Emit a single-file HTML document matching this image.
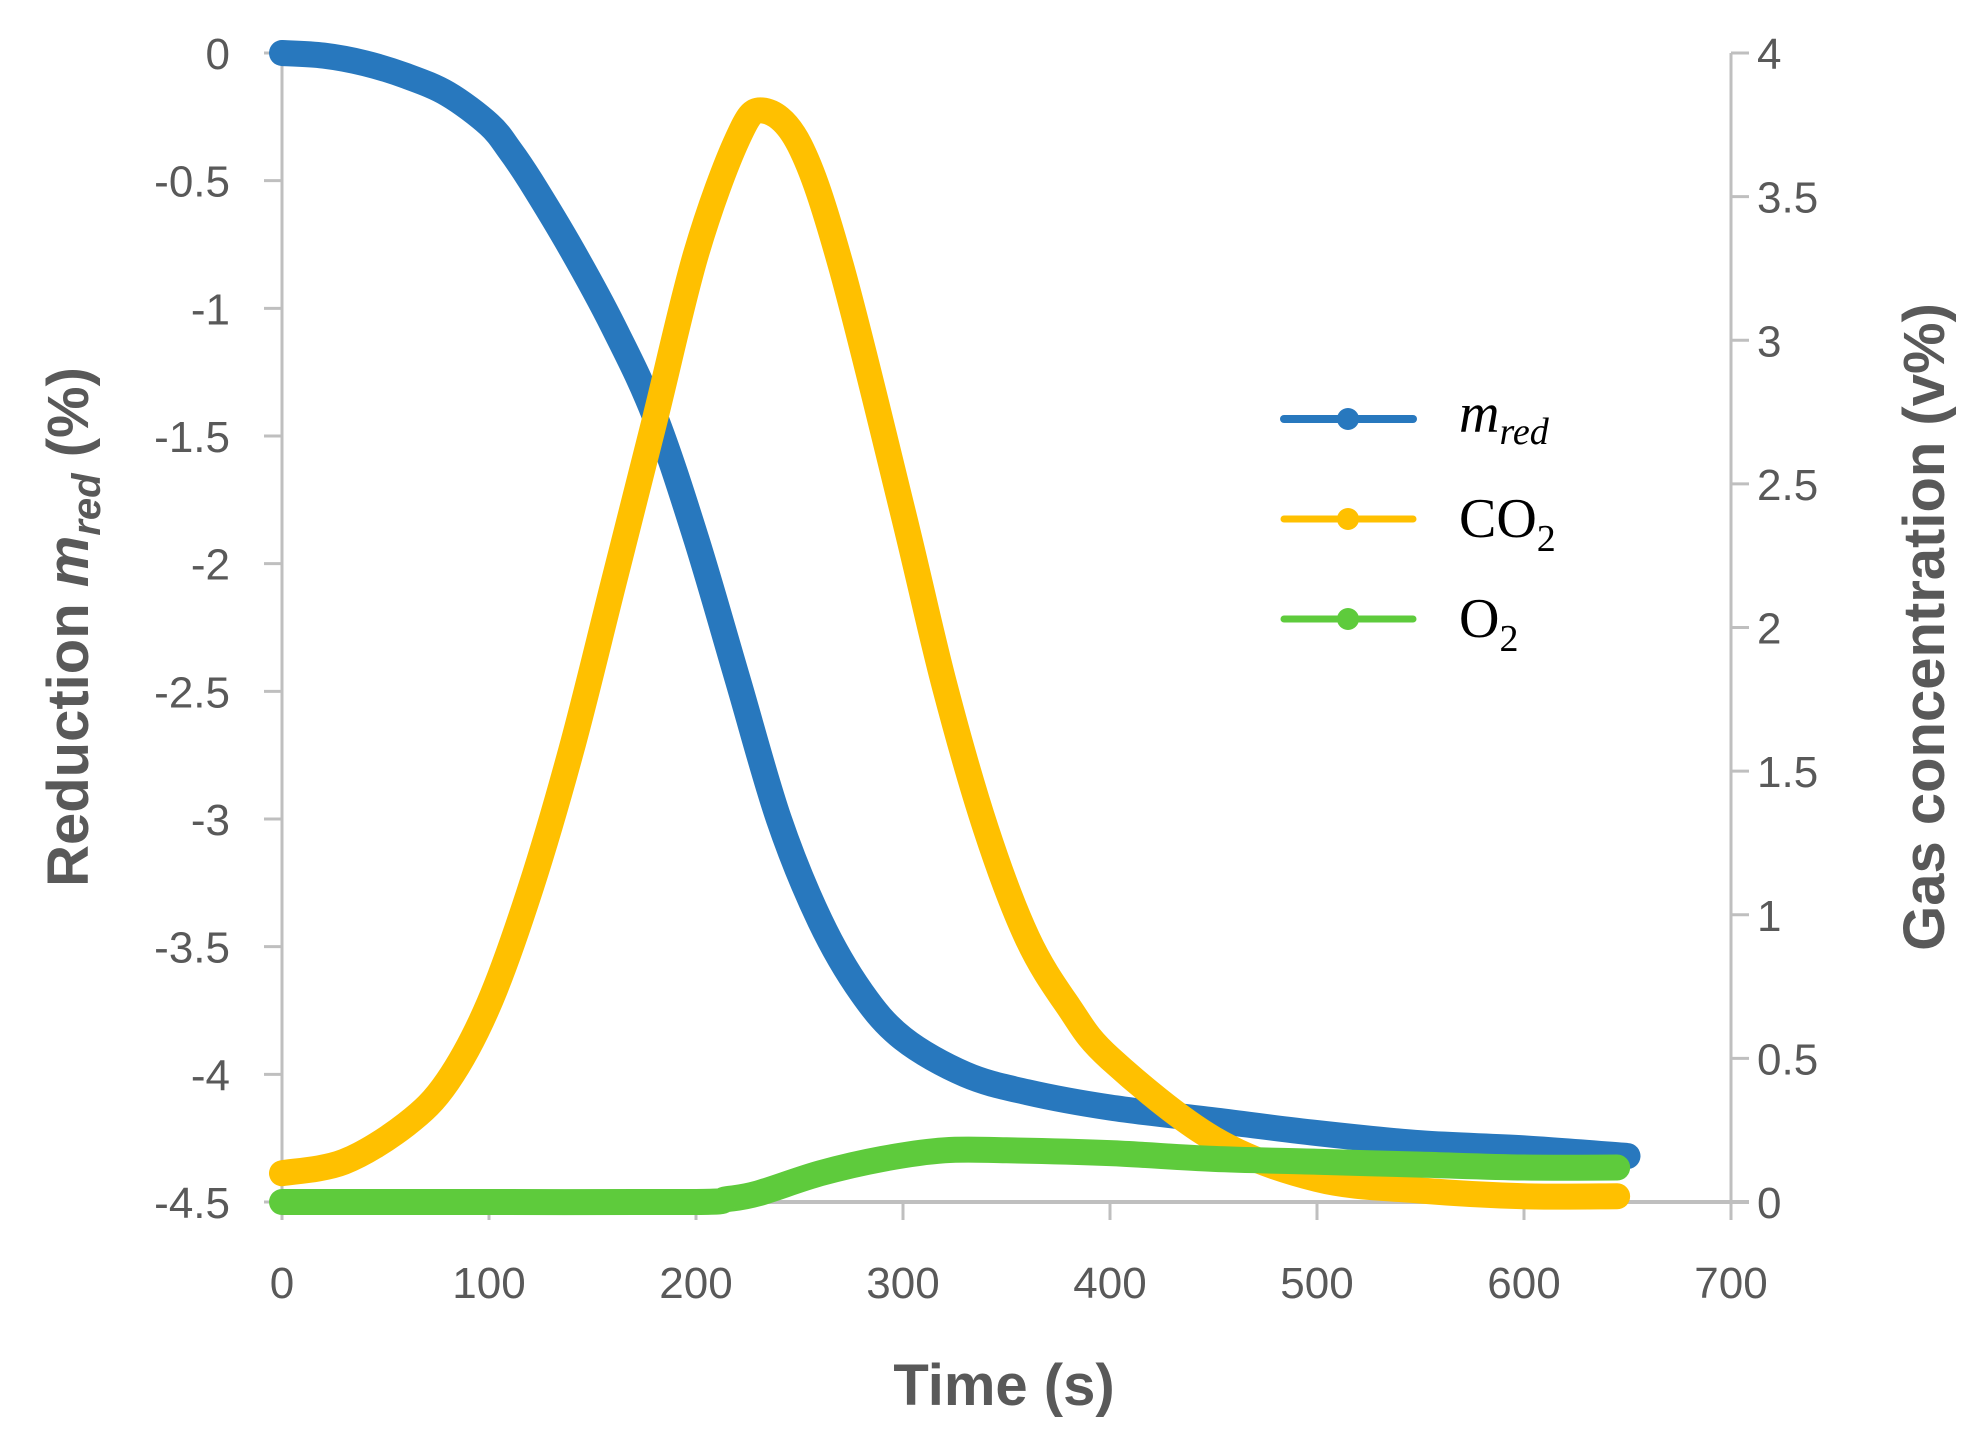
<!DOCTYPE html>
<html><head><meta charset="utf-8"><style>
html,body{margin:0;padding:0;background:#fff;}
svg{display:block;}
.tick{font-family:"Liberation Sans",sans-serif;font-size:44px;fill:#595959;}
.title{font-family:"Liberation Sans",sans-serif;font-size:58px;font-weight:bold;fill:#595959;}
.leg{font-family:"Liberation Serif",serif;font-size:56px;fill:#000;}
</style></head><body>
<svg id="chart" width="1983" height="1441" viewBox="0 0 1983 1441">
<g id="axes"></g>
<g id="series"></g>
<text class="title" x="1004" y="1405" text-anchor="middle">Time (s)</text>
<text class="title" transform="translate(88,627) rotate(-90)" text-anchor="middle">Reduction <tspan font-style="italic">m</tspan><tspan font-style="italic" font-size="40" dy="12">red</tspan><tspan dy="-12"> (%)</tspan></text>
<text class="title" transform="translate(1944,627) rotate(-90)" text-anchor="middle">Gas concentration (v%)</text>
<g id="legend">
<g>
<line x1="1284" y1="419" x2="1413" y2="419" stroke="#2878BE" stroke-width="8" stroke-linecap="round"/><circle cx="1348" cy="419" r="11" fill="#2878BE"/>
<text class="leg" x="1459" y="432" font-style="italic">m<tspan font-size="38" dy="12">red</tspan></text></g>
<g>
<line x1="1284" y1="519" x2="1413" y2="519" stroke="#FFC000" stroke-width="7" stroke-linecap="round"/><circle cx="1348" cy="519" r="11" fill="#FFC000"/>
<text class="leg" x="1459" y="537">CO<tspan font-size="38" dy="14">2</tspan></text></g>
<g>
<line x1="1284" y1="619" x2="1413" y2="619" stroke="#5ECB3C" stroke-width="7" stroke-linecap="round"/><circle cx="1348" cy="619" r="11" fill="#5ECB3C"/>
<text class="leg" x="1459" y="637">O<tspan font-size="38" dy="14">2</tspan></text></g>
</g>
</svg>
<script>
const xTicks=[0,100,200,300,400,500,600,700];
const leftTicks=[0,-0.5,-1,-1.5,-2,-2.5,-3,-3.5,-4,-4.5];
const rightTicks=[0,0.5,1,1.5,2,2.5,3,3.5,4];
const mredT=[0,20,40,60,80,100,110,120,140,160,180,200,220,240,260,280,300,330,360,400,450,500,550,600,650];
const mredV=[0,-0.01,-0.04,-0.09,-0.16,-0.28,-0.38,-0.5,-0.77,-1.07,-1.42,-1.9,-2.45,-3.0,-3.4,-3.68,-3.86,-4.0,-4.07,-4.13,-4.18,-4.23,-4.27,-4.29,-4.32];
const co2T=[0,30,60,80,100,120,140,160,180,200,220,232,250,270,300,320,340,360,380,400,450,500,550,600,645];
const co2V=[0.1,0.14,0.27,0.42,0.69,1.09,1.58,2.15,2.72,3.3,3.7,3.8,3.68,3.26,2.4,1.8,1.3,0.92,0.68,0.5,0.22,0.08,0.04,0.02,0.02];
const o2T=[0,100,200,215,230,260,290,320,350,400,450,500,550,600,645];
const o2V=[0,0,0,0.01,0.03,0.1,0.15,0.18,0.18,0.17,0.15,0.14,0.13,0.12,0.12];

const X0=282,X1=1731,Y0=53,Y1=1202;
const xs=t=>X0+(t/700)*(X1-X0);
const yL=v=>Y0+(-v/4.5)*(Y1-Y0);
const yR=v=>Y1-(v/4)*(Y1-Y0);
const NS='http://www.w3.org/2000/svg';
const axes=document.getElementById('axes'), series=document.getElementById('series');
function mk(tag,attrs,parent){const e=document.createElementNS(NS,tag);for(const k in attrs)e.setAttribute(k,attrs[k]);parent.appendChild(e);return e;}
const grey='#BFBFBF';
let e;
e=mk('line',{x1:X0,y1:Y0,x2:X0,y2:Y1,stroke:grey,'stroke-width':3},axes);


e=mk('line',{x1:X1,y1:Y0,x2:X1,y2:Y1,stroke:grey,'stroke-width':3},axes);


e=mk('line',{x1:X0,y1:Y1,x2:X1+18,y2:Y1,stroke:grey,'stroke-width':4},axes);


xTicks.forEach(t=>{
 e=mk('line',{x1:xs(t),y1:Y1,x2:xs(t),y2:Y1+18,stroke:grey,'stroke-width':3},axes);
 
 
 e=mk('text',{x:xs(t),y:Y1+96,'text-anchor':'middle',class:'tick'},axes);e.textContent=t;
 
 
});
leftTicks.forEach(v=>{
 e=mk('line',{x1:X0-18,y1:yL(v),x2:X0,y2:yL(v),stroke:grey,'stroke-width':3},axes);
 
 
 e=mk('text',{x:X0-52,y:yL(v)+16,'text-anchor':'end',class:'tick'},axes);e.textContent=v;
 
 
});
rightTicks.forEach(v=>{
 e=mk('line',{x1:X1,y1:yR(v),x2:X1+18,y2:yR(v),stroke:grey,'stroke-width':3},axes);
 
 
 e=mk('text',{x:X1+26,y:yR(v)+16,'text-anchor':'start',class:'tick'},axes);e.textContent=v;
 
 
});
function pathD(T,V,ys){
 const p=T.map((t,i)=>[xs(t),ys(V[i])]);
 let d='M'+p[0][0]+','+p[0][1];
 for(let i=0;i<p.length-1;i++){
  const a=p[Math.max(i-1,0)],b=p[i],c=p[i+1],n=p[Math.min(i+2,p.length-1)];
  const c1=[b[0]+(c[0]-a[0])/6,b[1]+(c[1]-a[1])/6],c2=[c[0]-(n[0]-b[0])/6,c[1]-(n[1]-b[1])/6];
  d+=' C'+c1+' '+c2+' '+c;
 }
 return d;
}
e=mk('path',{d:pathD(mredT,mredV,yL),fill:'none',stroke:'#2878BE','stroke-width':26,'stroke-linecap':'round','stroke-linejoin':'round'},series);


e=mk('path',{d:pathD(co2T,co2V,yR),fill:'none',stroke:'#FFC000','stroke-width':26,'stroke-linecap':'round','stroke-linejoin':'round'},series);


e=mk('path',{d:pathD(o2T,o2V,yR),fill:'none',stroke:'#5ECB3C','stroke-width':26,'stroke-linecap':'round','stroke-linejoin':'round'},series);


</script>
</body></html>
